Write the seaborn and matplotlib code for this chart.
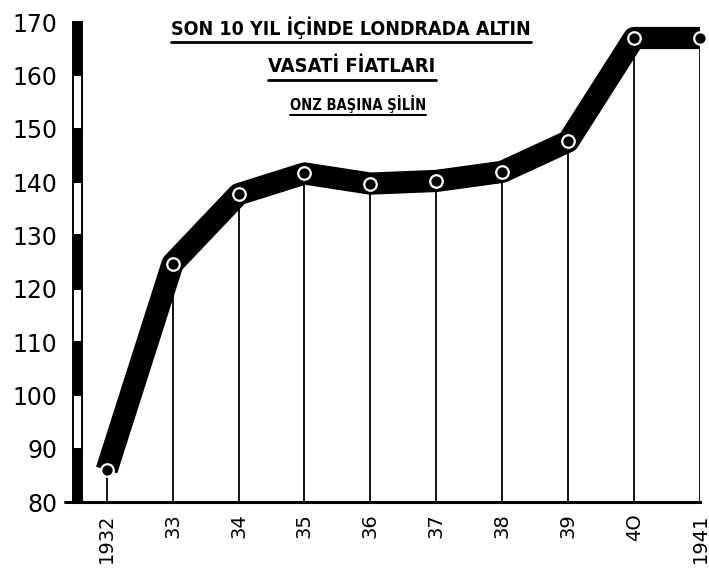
import matplotlib
matplotlib.use("Agg")
import matplotlib.pyplot as plt
import seaborn as sns
import pandas as pd
from matplotlib.patches import Rectangle
from matplotlib.lines import Line2D

years = [1932, 1933, 1934, 1935, 1936, 1937, 1938, 1939, 1940, 1941]
prices = [86, 124.7, 137.7, 141.6, 139.7, 140.2, 141.9, 147.6, 167, 167]
x_labels = ["1932", "33", "34", "35", "36", "37", "38", "39", "4O", "1941"]
y_ticks = [80, 90, 100, 110, 120, 130, 140, 150, 160, 170]
title_lines = ["SON 10 YIL İÇİNDE LONDRADA ALTIN", "VASATİ FİATLARI", "ONZ BAŞINA ŞİLİN"]

sns.set_style("white")
plt.rcParams["font.family"] = ["DejaVu Sans"]
plt.rcParams["text.color"] = "black"

W, H = 709, 568
fig = plt.figure(figsize=(W / 100, H / 100), dpi=100)
ax = fig.add_axes([77 / W, 1 - 502 / H, (700 - 77) / W, (502 - 22) / H])

df = pd.DataFrame({"year": years, "price": prices})

# vertical drop lines
ax.vlines(df["year"], 80, df["price"], color="black", lw=1.3, zorder=2)

sns.lineplot(data=df, x="year", y="price", ax=ax, color="black", lw=16,
             solid_capstyle="butt", solid_joinstyle="round", zorder=3, clip_on=False)
ax.plot(df["year"], df["price"], ls="none", marker="o", ms=9, mfc="black",
        mec="white", mew=1.6, zorder=4, clip_on=False)

ax.set_xlim(1931.55, 1941.0)
ax.set_ylim(80, 170)
ax.set_xticks(years)
ax.set_xticklabels(x_labels, rotation=90, fontsize=14)
ax.set_yticks(y_ticks)
ax.set_yticklabels([str(v) for v in y_ticks], fontsize=17)
ax.set_xlabel("")
ax.set_ylabel("")

for s in ["top", "right", "left"]:
    ax.spines[s].set_visible(False)
ax.spines["bottom"].set_linewidth(2.2)
ax.spines["bottom"].set_color("black")
ax.tick_params(axis="y", direction="out", length=6, width=1.2, pad=8, colors="black")
ax.tick_params(axis="x", direction="out", length=4, width=1.2, pad=4, colors="black")

# extend bottom axis a bit to the left
ax.plot([-0.02, 0], [0, 0], transform=ax.transAxes, color="black", lw=2.2, clip_on=False)

# alternating scale bar for y axis
trans = matplotlib.transforms.blended_transform_factory(ax.transAxes, ax.transData)
bw = 9 / (700 - 77)
for i, lo in enumerate(y_ticks[:-1]):
    fc = "black" if (i % 2 == 0) else "white"
    ax.add_patch(Rectangle((-bw / 2, lo), bw, 10, transform=trans, facecolor=fc,
                           edgecolor="black", lw=1.4, clip_on=False, zorder=5))

# title
tfam = ["DejaVu Sans"]
t1 = fig.text(351 / W, 1 - 28 / H, title_lines[0], ha="center", va="center", color="black",
              fontsize=14, fontweight="bold", fontstretch="condensed", family=tfam)
t2 = fig.text(352 / W, 1 - 67 / H, title_lines[1], ha="center", va="center", color="black",
              fontsize=14.5, fontweight="bold", fontstretch="condensed", family=tfam)
t3 = fig.text(358 / W, 1 - 104 / H, title_lines[2], ha="center", va="center", color="black",
              fontsize=10.5, fontweight="bold", fontstretch="condensed", family=tfam)

fig.canvas.draw()
r = fig.canvas.get_renderer()
for t, gap, lw in [(t1, 3, 2.0), (t2, 3, 2.0), (t3, 2, 1.5)]:
    bb = t.get_window_extent(r)
    yb = bb.y0 - gap
    fig.add_artist(Line2D([bb.x0 / W, bb.x1 / W], [yb / H, yb / H], color="black",
                          lw=lw, transform=fig.transFigure))

fig.savefig("out.png", dpi=100)
